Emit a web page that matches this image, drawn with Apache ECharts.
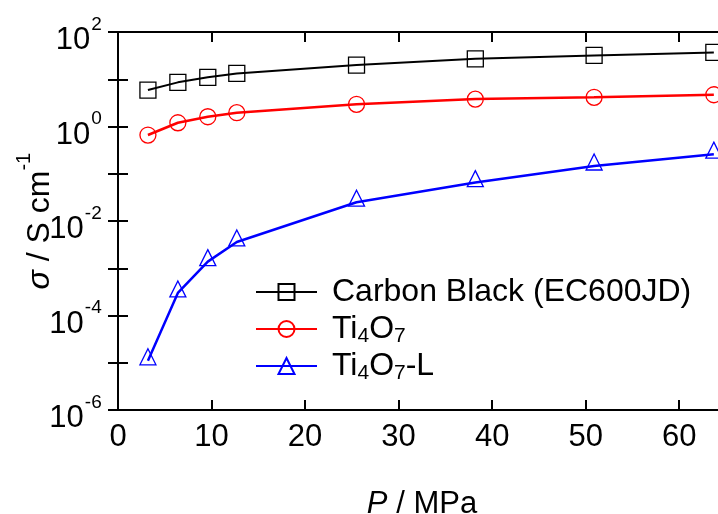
<!DOCTYPE html>
<html>
<head>
<meta charset="utf-8">
<script src="https://cdn.jsdelivr.net/npm/echarts@6/dist/echarts.min.js"></script>
<style>
html,body{margin:0;padding:0;background:#fff;}
#chart{width:718px;height:514px;}
</style>
</head>
<body>
<div id="chart"></div>
<script>
// ---- data ----
const pressure = [3.2, 6.4, 9.6, 12.7, 25.5, 38.2, 50.9, 63.7];
const carbonBlack = [5.9, 8.6, 11, 13.3, 20, 27, 32, 37];
const ti4o7 = [0.66, 1.2, 1.61, 1.96, 2.95, 3.8, 4.15, 4.7];
const ti4o7L = [1.1e-5, 3.0e-4, 1.38e-3, 3.6e-3, 0.025, 0.065, 0.146, 0.26];
const seriesNames = ['Carbon Black (EC600JD)', 'Ti4O7', 'Ti4O7-L'];
const legendLabels = ['Carbon Black (EC600JD)', '{b|Ti}{sub|4}{b|O}{sub|7}', '{b|Ti}{sub|4}{b|O}{sub|7}{b|-L}'];
const yLabelExponents = [-6, -4, -2, 0, 2];
const xTicks = [0, 10, 20, 30, 40, 50, 60];

const FONT = 'Liberation Sans, Arial, sans-serif';
const pairs = arr => pressure.map((p, i) => [p, arr[i]]);

const chart = echarts.init(document.getElementById('chart'), null, {renderer: 'canvas'});

const commonX = {
  type: 'value', min: 0, max: 65, interval: 10,
  splitLine: {show: false},
  axisLine: {show: true, onZero: false, lineStyle: {color: '#000', width: 2}},
  axisTick: {show: true, inside: true, length: 10, lineStyle: {color: '#000', width: 2}}
};
const commonY = {
  type: 'log', logBase: 10, min: 1e-6, max: 100, interval: 1,
  splitLine: {show: false}, minorTick: {show: false},
  axisLine: {show: true, lineStyle: {color: '#000', width: 2}},
  axisTick: {show: true, inside: true, length: 10, lineStyle: {color: '#000', width: 2}}
};

function mkSeries(name, data, color, symbol, lw, offset) {
  return {
    name: name, type: 'line', data: pairs(data), smooth: false,
    symbol: symbol, symbolSize: 16, symbolOffset: offset || [0, 0],
    lineStyle: {color: color, width: lw},
    itemStyle: {color: 'rgba(255,255,255,0)', borderColor: color, borderWidth: 1.3},
    emphasis: {disabled: true}
  };
}

const option = {
  backgroundColor: '#fff',
  animation: false,
  grid: {left: 118, right: -8, top: 32, bottom: 104, containLabel: false, outerBoundsMode: 'none'},
  xAxis: [
    Object.assign({}, commonX, {
      position: 'bottom',
      axisLabel: {show: true, fontFamily: FONT, fontSize: 31, color: '#000', margin: 12,
        formatter: v => xTicks.indexOf(v) >= 0 ? String(v) : ''},
      name: '{i|P}{n| / MPa}', nameLocation: 'middle', nameGap: 79,
      nameTextStyle: {fontFamily: FONT, color: '#000', fontSize: 31,
        rich: {i: {fontStyle: 'italic', fontSize: 31, fontFamily: FONT, color: '#000'}, n: {fontSize: 31, fontFamily: FONT, color: '#000'}}}
    }),
    Object.assign({}, commonX, {position: 'top', axisLabel: {show: false}})
  ],
  yAxis: [
    Object.assign({}, commonY, {
      position: 'left',
      axisLabel: {
        show: true, margin: 16, color: '#000', fontFamily: FONT,
        formatter: function (v) {
          const e = Math.round(Math.log10(v));
          if (yLabelExponents.indexOf(e) < 0) return '';
          return '{b|10}{e|' + e + '}{s| }';
        },
        rich: {
          b: {fontSize: 31, lineHeight: 30, verticalAlign: 'bottom', fontFamily: FONT, color: '#000'},
          e: {fontSize: 19, lineHeight: 20, verticalAlign: 'top', padding: [7, 0, 0, 1], fontFamily: FONT, color: '#000'},
          s: {fontSize: 1, lineHeight: 48, verticalAlign: 'middle'}
        }
      },
      name: '{i|σ}{n| / S cm}{e|-1}{s| }', nameLocation: 'middle', nameGap: 62, nameMoveOverlap: false,
      nameTextStyle: {fontFamily: FONT, color: '#000',
        rich: {
          i: {fontStyle: 'italic', fontSize: 32, lineHeight: 32, verticalAlign: 'bottom', fontFamily: FONT, color: '#000'},
          n: {fontSize: 32, lineHeight: 32, verticalAlign: 'bottom', fontFamily: FONT, color: '#000'},
          e: {fontSize: 20, lineHeight: 22, verticalAlign: 'top', fontFamily: FONT, color: '#000'},
          s: {fontSize: 1, lineHeight: 42, verticalAlign: 'middle'}
        }}
    }),
    Object.assign({}, commonY, {position: 'right', axisLabel: {show: false}})
  ],
  legend: {
    show: true, orient: 'vertical', left: 255, top: 274, padding: 0,
    itemWidth: 61, itemHeight: 20, itemGap: 1,
    formatter: name => legendLabels[seriesNames.indexOf(name)],
    textStyle: {
      fontFamily: FONT, fontSize: 32, color: '#000', lineHeight: 36, padding: [0, 0, 0, 10],
      rich: {
        b: {fontSize: 32, lineHeight: 36, verticalAlign: 'middle', fontFamily: FONT, color: '#000'},
        sub: {fontSize: 21, lineHeight: 22, verticalAlign: 'bottom', fontFamily: FONT, color: '#000'}
      }
    },
    data: seriesNames
  },
  series: [
    mkSeries(seriesNames[0], carbonBlack, '#000000', 'rect', 2),
    mkSeries(seriesNames[1], ti4o7, '#ff0000', 'circle', 2.5),
    mkSeries(seriesNames[2], ti4o7L, '#0000ff', 'triangle', 2.5, [0, -4])
  ]
};
chart.setOption(option);
</script>
</body>
</html>
